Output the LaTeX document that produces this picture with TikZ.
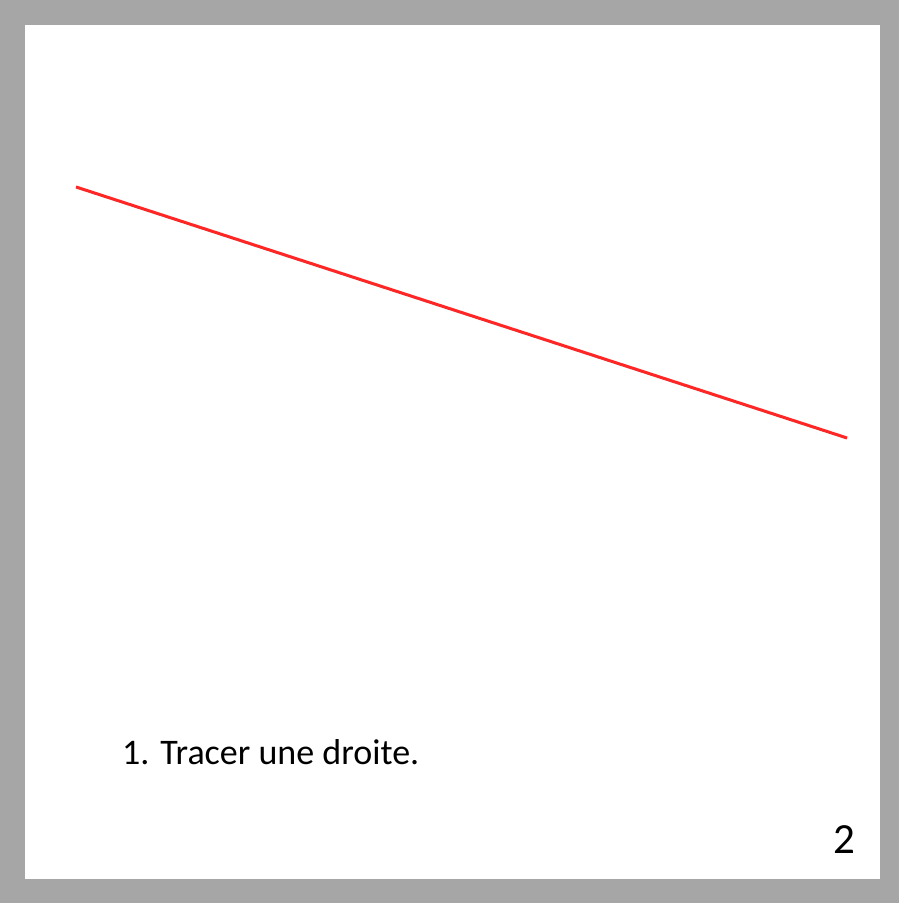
\documentclass[tikz,border=0pt]{standalone}
\usepackage{fontspec}
\setmainfont{Carlito}
\definecolor{cadre}{HTML}{A6A6A6}
\definecolor{rouge}{HTML}{FF2626}
\begin{document}
\begin{tikzpicture}[x=1pt,y=1pt]
  \tikzset{
    etape/.style={inner sep=0pt, font=\fontsize{36}{43}\selectfont},
    numero/.style={inner sep=0pt, font=\fontsize{43}{52}\selectfont},
    droite/.style={draw=rouge, line width=3pt}
  }
  \useasboundingbox (0,0) rectangle (899,903);

  % Cadre
  \fill[cadre] (0,0) rectangle (899,903);
  \fill[white] (25,24) rectangle (880,878);

  % Droite
  \coordinate (d1) at (76,716);
  \coordinate (d2) at (847,465);
  \draw[droite] (d1) -- (d2);

  % Textes
  \node[etape, anchor=base west] (texte) at (122,138) {1. Tracer une droite.};
  \node[numero, anchor=base east] (page) at (855,49) {2};
\end{tikzpicture}
\end{document}
